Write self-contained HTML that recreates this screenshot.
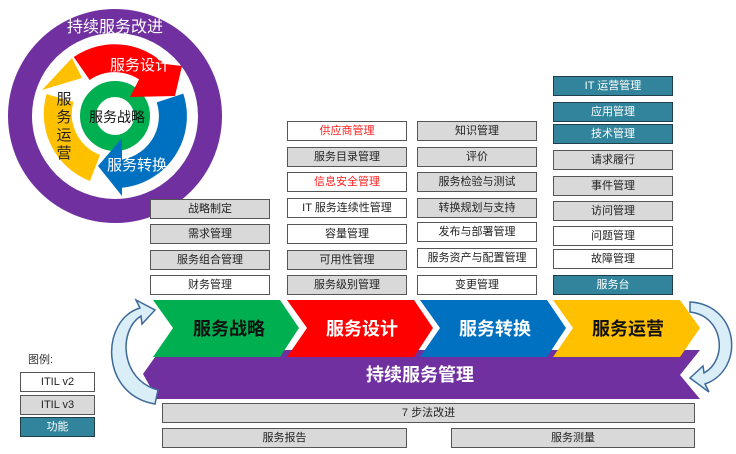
<!DOCTYPE html>
<html><head><meta charset="utf-8"><style>
body{margin:0;width:736px;height:454px;background:#fff;position:relative;overflow:hidden;font-family:"Liberation Sans","Noto Sans CJK SC",sans-serif;}
.b{position:absolute;box-sizing:border-box;border:1.5px solid #555;font-size:11px;line-height:18px;text-align:center;color:#222;background:#fff;height:20px;}
.g{background:#d9d9d9;}
.t{background:#31849b;color:#fff;border-color:#1f3f4a;}
.r{color:#ff2020;}
svg{position:absolute;left:0;top:0;}
</style></head><body>
<svg width="736" height="454" viewBox="0 0 736 454">
 <circle cx="115" cy="116" r="95" fill="#fff" stroke="#7030a0" stroke-width="24"/>
 <text x="115" y="32" font-size="16" fill="#fff" text-anchor="middle" font-family="Liberation Sans,Noto Sans CJK SC,sans-serif">持续服务改进</text>
 <circle cx="115" cy="116" r="27" fill="none" stroke="#00b050" stroke-width="16"/>
 <path d="M81.7 68.5 A58 58 0 0 1 160 80" fill="none" stroke="#ff0000" stroke-width="28"/>
 <polygon points="148,62 182,66 175,96 130,97" fill="#ff0000"/>
 <path d="M170 98 A58 58 0 0 1 118 174" fill="none" stroke="#0070c0" stroke-width="28"/>
 <polygon points="122,138 122,196 98,166" fill="#0070c0"/>
 <path d="M95 168 A58 58 0 0 1 60 98" fill="none" stroke="#ffc000" stroke-width="28"/>
 <polygon points="42,90 82,78 72,58" fill="#ffc000"/>
 <text x="140" y="70" font-size="15" fill="#fff" text-anchor="middle" font-family="Liberation Sans,Noto Sans CJK SC,sans-serif">服务设计</text>
 <text x="137" y="170" font-size="15" fill="#fff" text-anchor="middle" font-family="Liberation Sans,Noto Sans CJK SC,sans-serif">服务转换</text>
 <text x="117" y="122" font-size="14" fill="#111" text-anchor="middle" font-family="Liberation Sans,Noto Sans CJK SC,sans-serif">服务战略</text>
 <g font-size="15" fill="#222" text-anchor="middle" font-family="Liberation Sans,Noto Sans CJK SC,sans-serif">
  <text x="64" y="104">服</text><text x="64" y="122">务</text><text x="64" y="140">运</text><text x="64" y="158">营</text>
 </g>
 <polygon points="160,350 700,350 680,375 700,399 157,399 143,374" fill="#7030a0"/>
 <text x="420" y="381" font-size="18" font-weight="bold" fill="#fff" text-anchor="middle" font-family="Liberation Sans,Noto Sans CJK SC,sans-serif">持续服务管理</text>
 <polygon points="153,300 280,300 299,328 280,357 153,357 173,328" fill="#00b050"/>
 <polygon points="287,300 414,300 433,328 414,357 287,357 307,328" fill="#ff0000"/>
 <polygon points="420,300 547,300 566,328 547,357 420,357 440,328" fill="#0070c0"/>
 <polygon points="553,300 680,300 700,328 680,357 553,357 573,328" fill="#ffc000"/>
 <g font-size="18" font-weight="bold" text-anchor="middle" font-family="Liberation Sans,Noto Sans CJK SC,sans-serif">
  <text x="229" y="335" fill="#111">服务战略</text>
  <text x="362" y="335" fill="#fff">服务设计</text>
  <text x="495" y="335" fill="#fff">服务转换</text>
  <text x="628" y="335" fill="#111">服务运营</text>
 </g>
 <path d="M155 404 C100 395 100 320 140 308 L136 300 L155 310 L142 324 L141 316 C118 330 120 380 158 390 Z" fill="#daeef8" stroke="#3d6a9a" stroke-width="1.5"/>
 <path d="M690 302 C740 305 745 370 705 384 L709 392 L690 378 L703 366 L704 373 C728 360 724 316 690 312 Z" fill="#daeef8" stroke="#3d6a9a" stroke-width="1.5"/>
</svg>
<div class="b g" style="left:150px;top:199px;width:120px">战略制定</div>
<div class="b g" style="left:150px;top:224px;width:120px">需求管理</div>
<div class="b g" style="left:150px;top:250px;width:120px">服务组合管理</div>
<div class="b" style="left:150px;top:275px;width:120px">财务管理</div>

<div class="b r" style="left:287px;top:121px;width:120px">供应商管理</div>
<div class="b g" style="left:287px;top:147px;width:120px">服务目录管理</div>
<div class="b r" style="left:287px;top:172px;width:120px">信息安全管理</div>
<div class="b" style="left:287px;top:198px;width:120px">IT 服务连续性管理</div>
<div class="b" style="left:287px;top:224px;width:120px">容量管理</div>
<div class="b g" style="left:287px;top:250px;width:120px">可用性管理</div>
<div class="b g" style="left:287px;top:275px;width:120px">服务级别管理</div>

<div class="b g" style="left:417px;top:121px;width:120px">知识管理</div>
<div class="b g" style="left:417px;top:147px;width:120px">评价</div>
<div class="b g" style="left:417px;top:172px;width:120px">服务检验与测试</div>
<div class="b g" style="left:417px;top:198px;width:120px">转换规划与支持</div>
<div class="b" style="left:417px;top:222px;width:120px">发布与部署管理</div>
<div class="b" style="left:417px;top:248px;width:120px">服务资产与配置管理</div>
<div class="b" style="left:417px;top:275px;width:120px">变更管理</div>

<div class="b t" style="left:553px;top:76px;width:120px">IT 运营管理</div>
<div class="b t" style="left:553px;top:102px;width:120px">应用管理</div>
<div class="b t" style="left:553px;top:124px;width:120px">技术管理</div>
<div class="b g" style="left:553px;top:150px;width:120px">请求履行</div>
<div class="b g" style="left:553px;top:176px;width:120px">事件管理</div>
<div class="b g" style="left:553px;top:201px;width:120px">访问管理</div>
<div class="b" style="left:553px;top:226px;width:120px">问题管理</div>
<div class="b" style="left:553px;top:249px;width:120px">故障管理</div>
<div class="b t" style="left:553px;top:275px;width:120px">服务台</div>

<div class="b g" style="left:162px;top:403px;width:533px">7 步法改进</div>
<div class="b g" style="left:162px;top:428px;width:245px">服务报告</div>
<div class="b g" style="left:451px;top:428px;width:244px">服务测量</div>

<div style="position:absolute;left:28px;top:351px;font-size:11px;color:#333">图例:</div>
<div class="b" style="left:20px;top:372px;width:75px">ITIL v2</div>
<div class="b g" style="left:20px;top:395px;width:75px">ITIL v3</div>
<div class="b t" style="left:20px;top:417px;width:75px">功能</div>
</body></html>
